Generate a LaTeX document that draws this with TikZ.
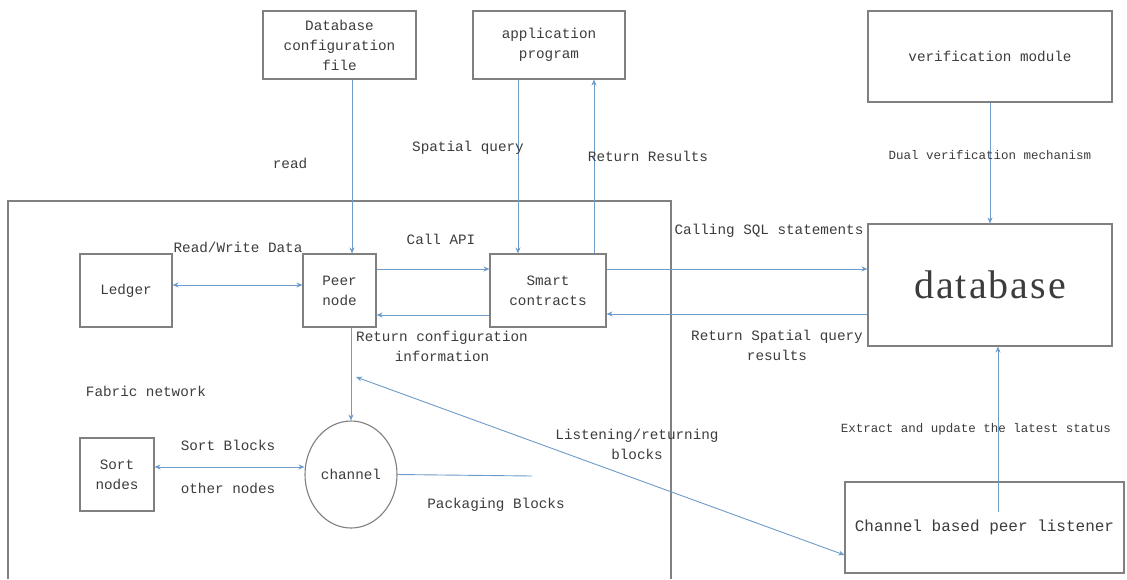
\documentclass[tikz,border=0pt]{standalone}
\usepackage{fontspec}
\setmainfont{Liberation Mono}
\newfontfamily\bigserif[LetterSpace=5]{Liberation Serif}
\usetikzlibrary{arrows.meta,shapes.geometric}
\definecolor{boxgray}{RGB}{128,128,128}
\definecolor{txtgray}{RGB}{60,60,60}
\definecolor{flow}{RGB}{110,155,202}
\tikzset{
  box/.style={draw=boxgray, line width=1.1pt, text=txtgray, align=center,
              inner sep=0pt, font=\fontsize{14.3}{20}\selectfont},
  lbl/.style={text=txtgray, align=center, inner sep=0pt,
              font=\fontsize{14.3}{20}\selectfont},
  small/.style={text=txtgray, align=center, inner sep=0pt,
              font=\fontsize{12.5}{18}\selectfont},
  arr/.style={draw=flow, line width=0.9pt, -{Stealth[length=6pt,width=5pt]}},
  darr/.style={draw=flow, line width=0.9pt, {Stealth[length=6pt,width=5pt]}-{Stealth[length=6pt,width=5pt]}},
  plain/.style={draw=flow, line width=0.9pt}
}
\begin{document}
\begin{tikzpicture}[x=1pt,y=-1pt]
\useasboundingbox (0,0) rectangle (1127,579);
\fill[white] (0,0) rectangle (1127,579);

% Fabric network container (runs past the lower edge)
\draw[boxgray, line width=1.1pt] (8,579) -- (8,201) -- (671,201) -- (671,579);

% boxes
\node[box, minimum width=153pt, minimum height=68pt] (dbcfg) at (339.5,45) {Database\\configuration\\file};
\node[box, minimum width=152pt, minimum height=68pt] (app) at (549,45) {application\\program};
\node[box, minimum width=244pt, minimum height=91pt] (verif) at (990,56.5) {verification module};
\node[box, minimum width=244pt, minimum height=122pt, font=\bigserif\fontsize{40}{44}\selectfont] (db) at (990,285) {database};
\node[box, minimum width=92pt, minimum height=73pt] (ledger) at (126,290.5) {Ledger};
\node[box, minimum width=73pt, minimum height=73pt] (peer) at (339.5,290.5) {Peer\\node};
\node[box, minimum width=116pt, minimum height=73pt] (smart) at (548,290.5) {Smart\\contracts};
\node[box, minimum width=74pt, minimum height=73pt] (sort) at (117,474.5) {Sort\\nodes};
\node[box, ellipse, minimum width=92pt, minimum height=107pt] (channel) at (351,474.5) {channel};
\node[box, minimum width=279pt, minimum height=91pt, font=\fontsize{16}{20}\selectfont] (listener) at (984.5,527.5) {Channel based peer listener};

% free ends
\coordinate (pkend) at (532,476);
\coordinate (lisend) at (356,377);
\coordinate (lstart) at (998,512);

% connectors
\draw[arr] ([xshift=12.5pt]dbcfg.south) -- ([xshift=12.5pt]peer.north);
\draw[arr] ([xshift=-31pt]app.south) -- ([xshift=-31pt]app.south |- smart.north);
\draw[arr] ([xshift=46pt]smart.north) -- ([xshift=46pt]smart.north |- app.south);
\draw[darr] ([yshift=5.5pt]ledger.east) -- ([yshift=5.5pt]ledger.east -| peer.west);
\draw[arr] ([yshift=21.5pt]peer.east) -- ([yshift=21.5pt]peer.east -| smart.west);
\draw[arr] ([yshift=-24.5pt]smart.west) -- ([yshift=-24.5pt]smart.west -| peer.east);
\draw[arr] ([yshift=21.5pt]smart.east) -- ([yshift=21.5pt]smart.east -| db.west);
\draw[arr] ([yshift=-29pt]db.west) -- ([yshift=-29pt]db.west -| smart.east);
\draw[arr] (verif.south) -- (db.north);
\draw[arr] (lstart) -- (lstart |- db.south);
\draw[arr] ([xshift=11.5pt]peer.south) -- (channel.north);
\draw[darr] ([yshift=7.5pt]sort.east) -- ([yshift=7.5pt]channel.west);
\draw[plain] (channel.east) -- (pkend);
\draw[darr] (lisend) -- ([yshift=-27.5pt]listener.west);

% labels
\node[lbl] (lread) at (290,163) {read};
\node[lbl] (lsq) at (468,148) {Spatial query};
\node[lbl] (lrr) at (648,156) {Return Results};
\node[small] (ldual) at (990,155) {Dual verification mechanism};
\node[lbl] (lrw) at (238,247) {Read/Write Data};
\node[lbl] (lapi) at (441,239) {Call API};
\node[lbl] (lsql) at (769,231) {Calling SQL statements};
\node[lbl] (lcfg) at (442,346) {Return configuration\\information};
\node[lbl] (lrsq) at (777,345.5) {Return Spatial query\\results};
\node[lbl] (lfab) at (146,391) {Fabric network};
\node[lbl] (lsb) at (228,445) {Sort Blocks};
\node[lbl] (lon) at (228,488) {other nodes};
\node[lbl] (lpk) at (496,505) {Packaging Blocks};
\node[lbl] (llis) at (637,444) {Listening/returning\\blocks};
\node[small] (lext) at (976,429) {Extract and update the latest status};
\end{tikzpicture}
\end{document}
